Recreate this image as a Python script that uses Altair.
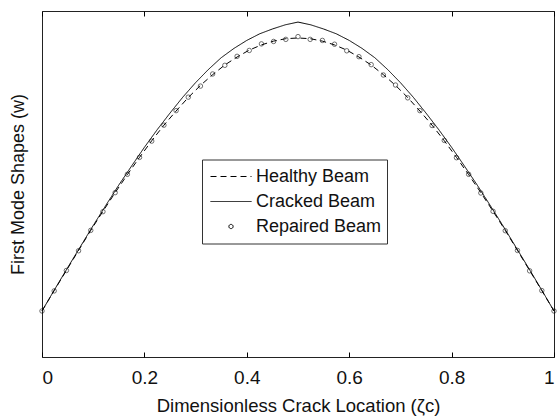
import altair as alt
import pandas as pd

# ---- data ----
x_grid = [0.0, 0.0238, 0.0476, 0.0714, 0.0952, 0.1190, 0.1429, 0.1667, 0.1905, 0.2143,
          0.2381, 0.2619, 0.2857, 0.3095, 0.3333, 0.3571, 0.3810, 0.4048, 0.4286, 0.4524,
          0.4762, 0.5, 0.5238, 0.5476, 0.5714, 0.5952, 0.6190, 0.6429, 0.6667, 0.6905,
          0.7143, 0.7381, 0.7619, 0.7857, 0.8095, 0.8333, 0.8571, 0.8810, 0.9048, 0.9286,
          0.9524, 0.9762, 1.0]

healthy_w = [0.133, 0.192, 0.250, 0.308, 0.366, 0.421, 0.475, 0.527, 0.577, 0.625,
             0.670, 0.711, 0.750, 0.785, 0.816, 0.844, 0.867, 0.887, 0.902, 0.913,
             0.920, 0.922, 0.920, 0.913, 0.902, 0.887, 0.867, 0.844, 0.816, 0.785,
             0.750, 0.711, 0.670, 0.625, 0.577, 0.527, 0.475, 0.421, 0.366, 0.308,
             0.250, 0.192, 0.133]

repaired_w = [0.133, 0.191, 0.250, 0.307, 0.366, 0.420, 0.475, 0.528, 0.577, 0.624,
              0.670, 0.712, 0.751, 0.783, 0.818, 0.843, 0.869, 0.886, 0.905, 0.912,
              0.918, 0.926, 0.918, 0.915, 0.904, 0.885, 0.868, 0.845, 0.815, 0.786,
              0.749, 0.712, 0.669, 0.626, 0.576, 0.528, 0.474, 0.421, 0.365, 0.308,
              0.249, 0.192, 0.133]

x_cracked = [0.0, 0.025, 0.05, 0.075, 0.1, 0.125, 0.15, 0.175, 0.2, 0.225, 0.25,
             0.275, 0.3, 0.325, 0.35, 0.375, 0.4, 0.425, 0.45, 0.475, 0.5,
             0.525, 0.55, 0.575, 0.6, 0.625, 0.65, 0.675, 0.7, 0.725, 0.75,
             0.775, 0.8, 0.825, 0.85, 0.875, 0.9, 0.925, 0.95, 0.975, 1.0]

cracked_w = [0.133, 0.196, 0.258, 0.319, 0.380, 0.439, 0.497, 0.552, 0.606, 0.657, 0.705,
             0.751, 0.793, 0.831, 0.865, 0.892, 0.915, 0.934, 0.948, 0.960, 0.968,
             0.960, 0.948, 0.934, 0.915, 0.892, 0.865, 0.831, 0.793, 0.751, 0.705,
             0.657, 0.606, 0.552, 0.497, 0.439, 0.380, 0.319, 0.258, 0.196, 0.133]

series_names = ["Healthy Beam", "Cracked Beam", "Repaired Beam"]
x_ticks = [0, 0.2, 0.4, 0.6, 0.8, 1]

lines_df = pd.concat([
    pd.DataFrame({"x": x_grid, "w": healthy_w, "series": series_names[0]}),
    pd.DataFrame({"x": x_cracked, "w": cracked_w, "series": series_names[1]}),
], ignore_index=True)
points_df = pd.DataFrame({"x": x_grid, "w": repaired_w, "series": series_names[2]})

FONT = "Liberation Sans"
xscale = alt.Scale(domain=[0, 1], nice=False, zero=False)
yscale = alt.Scale(domain=[0, 1], nice=False, zero=False)

y_axis = alt.Axis(title="First Mode Shapes (w)", labels=False, ticks=False, domain=False,
                  grid=False, titleFontSize=18, titleFont=FONT, titleFontWeight="normal",
                  titleColor="#111111", titlePadding=15)

lines = alt.Chart(lines_df).mark_line(color="black", strokeWidth=1).encode(
    x=alt.X("x:Q", scale=xscale,
            axis=alt.Axis(title="Dimensionless Crack Location (ζc)", values=x_ticks,
                          format="~g", orient="bottom", offset=-5, tickSize=5,
                          tickColor="black", domain=False, grid=False,
                          labelFontSize=19, labelFont=FONT, labelColor="#111111",
                          labelPadding=11, titleFontSize=18.5, titleFont=FONT,
                          titleFontWeight="normal", titleColor="#111111", titlePadding=9)),
    y=alt.Y("w:Q", scale=yscale, axis=y_axis),
    strokeDash=alt.StrokeDash(
        "series:N",
        scale=alt.Scale(domain=series_names, range=[[6, 4], [1, 0], [1, 0]]),
        legend=alt.Legend(
            title=None, orient="none", legendX=160, legendY=148.5,
            strokeColor="#333333", fillColor="white", padding=5, symbolOffset=3,
            clipHeight=24, rowPadding=1, labelOffset=4,
            labelFontSize=18, labelFont=FONT, labelColor="#111111",
            symbolType=alt.ExprRef(expr="datum.value === 'Repaired Beam' ? 'circle' : 'stroke'"),
            symbolSize=alt.ExprRef(expr="datum.value === 'Repaired Beam' ? 18 : 1681"),
            symbolStrokeColor="black", symbolStrokeWidth=1, symbolFillColor="transparent",
        ),
    ),
    detail="series:N",
)

points = alt.Chart(points_df).mark_point(shape="circle", filled=False, color="black",
                                         size=20, strokeWidth=0.8).encode(
    x=alt.X("x:Q", scale=xscale,
            axis=alt.Axis(title=None, values=x_ticks, orient="top", offset=-5, tickSize=5,
                          tickColor="black", labels=False, domain=False, grid=False)),
    y=alt.Y("w:Q", scale=yscale, axis=y_axis),
)

chart = alt.layer(lines, points).resolve_axis(x="independent").properties(
    width=512, height=346,
    autosize=alt.AutoSizeParams(type="none"),
    padding={"left": 42, "top": 11, "right": 4, "bottom": 59},
    background="white",
).configure_view(stroke="#222222", strokeWidth=1)

chart.save("out.html", embed_options={"renderer": "svg", "actions": False})
